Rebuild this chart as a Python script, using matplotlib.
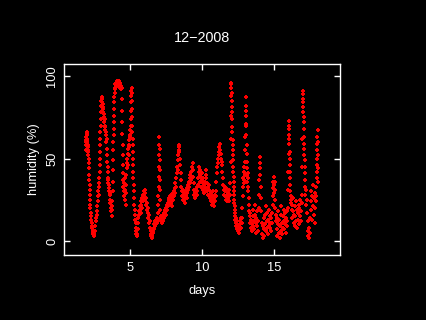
import matplotlib
matplotlib.use("Agg")
import matplotlib.pyplot as plt

# ---- data: humidity readings (day of month, % relative humidity) ----
day_a = [1.94,1.95,1.96,1.97,1.98,1.99,2.00,2.01,2.02,2.03,2.05,2.06,2.08,2.09,2.11,2.12,2.14,2.16,2.17,2.18,2.19,2.20,2.21,2.22,2.23,2.24,2.25,2.27,2.29,2.31,2.33,2.35,2.37,2.40,2.42,2.45,2.48,2.50,2.53,2.56,2.59,2.62,2.65,2.68,2.70,2.72]
hum_a = [55,58,61,63,60,64,66,62,65,60,61,57,58,54,55,52,50,47,44,40,37,34,31,28,25,22,20,17,15,13,11,9,8,6,5,4,3,3,4,6,9,12,14,16,18,21]

day_b = [2.75,2.78,2.80,2.82,2.84,2.86,2.88,2.89,2.90,2.91,2.92,2.93,2.94,2.95,2.96,2.97,2.98,3.00,3.02,3.04,3.06,3.08,3.10,3.12,3.14,3.16,3.18,3.20,3.22,3.24,3.26,3.28,3.30,3.32,3.34,3.36,3.38]
hum_b = [24,27,30,28,33,35,38,42,46,50,54,58,62,66,70,74,78,82,85,87,84,86,80,83,78,81,75,77,72,74,70,67,69,64,66,60,62]

day_c = [3.40,3.42,3.43,3.44,3.45,3.46,3.48,3.50,3.52,3.54,3.56,3.58,3.60,3.62,3.64,3.66,3.68,3.70,3.72,3.74,3.76,3.78]
hum_c = [56,52,48,45,42,38,35,37,32,30,34,28,25,29,23,20,24,18,21,15,19,24]

day_d = [3.80,3.81,3.82,3.83,3.84,3.85,3.86,3.87,3.88,3.89,3.90,3.91,3.92,3.93,3.94,3.96,3.98,4.00,4.03,4.06,4.09,4.12,4.15,4.18,4.21,4.24,4.27,4.30,4.33,4.36,4.39,4.42]
hum_d = [30,36,43,49,55,60,64,68,72,76,80,84,87,90,92,93,95,94,96,95,97,96,94,96,95,97,95,93,96,94,92,93]

day_e = [4.45,4.46,4.47,4.48,4.49,4.50,4.51,4.52,4.53,4.55,4.57,4.59,4.61,4.63,4.65,4.67,4.69,4.71,4.73,4.75]
hum_e = [86,79,72,65,58,52,46,41,37,33,30,35,27,31,25,38,29,22,34,40]

day_f = [4.78,4.80,4.82,4.84,4.86,4.88,4.90,4.92,4.94,4.96,4.98,5.00,5.02,5.04,5.06,5.07,5.08,5.09,5.10,5.11,5.12,5.13,5.14,5.15,5.16,5.17,5.18,5.19,5.20,5.21,5.22,5.23,5.24,5.25,5.27,5.29,5.31,5.33,5.35,5.37,5.39,5.41,5.43,5.45,5.47,5.49,5.51]
hum_f = [44,47,50,46,53,56,52,58,61,57,64,67,63,70,74,79,84,88,91,93,90,85,80,75,70,66,62,58,54,50,46,42,38,34,30,26,22,19,16,13,11,8,6,4,3,3,4]

day_g = [5.53,5.56,5.59,5.62,5.65,5.68,5.71,5.74,5.77,5.80,5.83,5.86,5.89,5.92,5.95,5.98,6.01,6.04,6.07,6.10,6.13,6.16,6.19,6.22,6.25,6.28,6.31,6.34,6.37,6.40,6.43,6.46,6.49,6.52,6.55,6.58]
hum_g = [7,11,14,18,16,21,19,24,17,22,26,20,28,24,30,27,31,25,29,22,26,19,23,17,20,14,16,11,12,8,6,4,3,2,3,5]

day_h = [6.61,6.64,6.67,6.70,6.73,6.76,6.79,6.82,6.85,6.88,6.91,6.94,6.96,6.97,6.98,6.99,7.00,7.01,7.02,7.03,7.04,7.05,7.06,7.07,7.08,7.09,7.10,7.11,7.12,7.14,7.17,7.20,7.23,7.26,7.29,7.32,7.35,7.38,7.41,7.44,7.47,7.50,7.53,7.56,7.59,7.62,7.65,7.68,7.71,7.74,7.77]
hum_h = [6,8,7,10,9,12,10,13,11,14,12,13,17,22,27,33,39,45,52,58,63,56,49,43,37,31,25,19,15,12,14,11,13,15,12,16,14,17,15,19,16,20,18,22,19,23,21,25,22,26,24]

day_i = [7.80,7.83,7.86,7.89,7.92,7.95,7.98,8.01,8.04,8.07,8.10,8.13,8.16,8.19,8.22,8.25,8.28,8.31,8.33,8.35,8.37,8.39,8.41,8.43,8.45]
hum_i = [27,23,28,21,26,24,29,25,30,27,32,29,35,33,38,41,45,43,49,52,55,58,54,57,50]

day_j = [8.48,8.51,8.54,8.57,8.60,8.63,8.66,8.69,8.72,8.75,8.78,8.81,8.84,8.87,8.90,8.93,8.96,8.99,9.02,9.05,9.08,9.11,9.14,9.17,9.20,9.23,9.26,9.29,9.32,9.35,9.38,9.40,9.42,9.44,9.46,9.48,9.50,9.53,9.56,9.59,9.62,9.65,9.68]
hum_j = [46,41,37,33,30,27,31,25,28,24,29,26,23,27,30,26,32,29,34,31,36,33,38,35,40,37,42,39,45,47,43,39,35,31,28,30,26,29,27,31,28,33,30]

day_k = [9.71,9.74,9.77,9.80,9.83,9.86,9.89,9.92,9.95,9.98,10.01,10.04,10.07,10.10,10.13,10.16,10.19,10.22,10.25,10.28,10.31,10.34,10.37,10.40,10.43,10.46,10.49,10.52,10.55,10.58,10.61,10.64,10.67,10.70,10.73,10.76,10.79,10.82,10.85,10.88,10.91,10.94]
hum_k = [34,38,42,45,40,36,43,39,33,37,41,35,31,38,34,29,36,32,40,43,38,35,30,33,28,31,27,34,30,26,29,24,27,22,25,30,23,26,21,28,24,27]

day_l = [10.97,11.00,11.03,11.06,11.09,11.12,11.15,11.18,11.21,11.24,11.27,11.30,11.33,11.36,11.39,11.42,11.45,11.48,11.51,11.54,11.57,11.60,11.63,11.66,11.69,11.72,11.75,11.78,11.81,11.84,11.87,11.90,11.93]
hum_l = [30,36,41,45,50,47,54,57,52,59,55,50,53,46,48,42,38,34,31,28,33,27,30,25,32,28,24,29,26,31,27,24,28]

day_m = [11.96,11.98,11.99,12.00,12.01,12.02,12.03,12.04,12.05,12.06,12.07,12.08,12.09,12.10,12.11,12.12,12.13,12.14,12.15,12.16,12.17,12.18,12.19,12.20,12.21,12.22,12.23,12.24,12.25,12.26,12.27,12.28,12.30,12.32,12.34,12.36,12.38,12.40,12.43,12.46,12.49,12.52,12.55,12.58,12.61,12.64,12.67,12.70,12.73,12.76]
hum_m = [35,48,62,76,88,96,93,95,90,85,81,78,74,69,66,61,58,55,52,49,45,42,39,36,33,30,28,25,23,21,19,17,15,13,11,14,9,12,7,10,6,8,5,9,12,7,10,14,8,11]

day_n = [12.79,12.81,12.83,12.85,12.87,12.89,12.91,12.93,12.95,12.97,12.99,13.00,13.01,13.02,13.03,13.04,13.05,13.06,13.07,13.08,13.09,13.10,13.11,13.12,13.13,13.14,13.16,13.18,13.20,13.22,13.24,13.26,13.28]
hum_n = [14,20,27,33,38,35,42,37,45,40,48,55,63,71,79,87,82,76,70,64,58,53,48,44,40,36,41,33,38,30,26,22,18]

day_o = [13.30,13.33,13.36,13.39,13.42,13.45,13.48,13.51,13.54,13.57,13.60,13.63,13.66,13.69,13.72,13.75,13.78,13.81,13.84,13.87,13.90,13.93,13.96,13.98,14.00,14.02,14.04,14.06,14.08,14.10,14.12,14.15,14.18,14.21,14.24,14.27,14.30,14.33,14.36,14.39,14.42,14.45,14.48,14.51,14.54,14.57,14.60,14.63,14.66,14.69,14.72]
hum_o = [15,11,17,8,13,6,10,15,9,19,12,7,16,22,11,5,14,9,18,6,12,20,28,37,44,51,47,40,33,26,18,11,4,9,2,7,14,3,10,16,6,21,12,8,17,4,13,19,9,15,11]

day_p = [14.75,14.78,14.81,14.84,14.87,14.90,14.92,14.94,14.96,14.98,15.00,15.02,15.04,15.06,15.08,15.10,15.12,15.15,15.18,15.21,15.24,15.27,15.30,15.33,15.36,15.39,15.42,15.45,15.48,15.51,15.54,15.57,15.60,15.63,15.66,15.69,15.72,15.75,15.78,15.81,15.84,15.87,15.90,15.93]
hum_p = [8,14,6,11,17,22,27,32,36,39,34,29,36,31,25,20,16,12,7,14,3,10,18,5,13,2,9,16,6,21,11,4,15,8,19,12,7,17,10,5,14,9,18,12]

day_q = [15.96,15.98,16.00,16.01,16.02,16.03,16.04,16.05,16.06,16.07,16.08,16.09,16.10,16.11,16.12,16.13,16.14,16.15,16.17,16.19,16.22,16.25,16.28,16.31,16.34,16.37,16.40,16.43,16.46,16.49,16.52,16.55,16.58,16.61,16.64,16.67,16.70,16.73,16.76,16.79,16.82]
hum_q = [20,31,42,53,62,70,73,68,64,59,54,50,46,42,38,34,30,27,23,25,19,22,14,18,26,11,16,21,9,15,24,12,19,8,17,13,22,10,20,15,25]

day_r = [16.85,16.88,16.91,16.94,16.96,16.97,16.98,16.99,17.00,17.01,17.02,17.03,17.04,17.05,17.06,17.07,17.08,17.09,17.10,17.11,17.12,17.13,17.14,17.15,17.16]
hum_r = [18,12,23,28,45,62,78,91,89,86,84,81,78,75,72,68,63,59,56,52,49,45,41,37,33]

day_s = [17.18,17.21,17.24,17.27,17.30,17.33,17.36,17.39,17.42,17.45,17.48,17.51,17.54,17.57,17.60,17.63,17.66,17.69,17.72,17.75,17.78,17.81,17.84,17.87,17.89,17.91,17.93,17.95,17.96,17.97,17.98,17.99,18.00,18.01,18.02,18.03,18.04,18.05,18.06]
hum_s = [28,22,31,17,25,12,6,3,8,2,5,14,24,19,30,13,27,21,34,16,26,11,20,29,24,33,27,38,42,46,50,55,59,63,67,60,52,44,36]

x_ticks = [5, 10, 15]
y_ticks = [0, 50, 100]
title_text = "12\u22122008"
x_label = "days"
y_label = "humidity (%)"

day_parts = [day_a, day_b, day_c, day_d, day_e, day_f, day_g, day_h, day_i, day_j,
             day_k, day_l, day_m, day_n, day_o, day_p, day_q, day_r, day_s]
hum_parts = [hum_a, hum_b, hum_c, hum_d, hum_e, hum_f, hum_g, hum_h, hum_i, hum_j,
             hum_k, hum_l, hum_m, hum_n, hum_o, hum_p, hum_q, hum_r, hum_s]
days, humidity = [], []
for dp, hp in zip(day_parts, hum_parts, strict=True):
    assert len(dp) == len(hp), (len(dp), len(hp))
    days.extend(dp)
    humidity.extend(hp)

# ---- figure ----
plt.rcParams['font.family'] = ['Liberation Sans', 'DejaVu Sans']
fig = plt.figure(figsize=(4.26, 3.2), dpi=100, facecolor='black')
ax = fig.add_axes([64/426, 65/320, 276/426, 191/320], facecolor='black')

ax.plot(days, humidity, linestyle='none', marker='+', color='#ff0000',
        markersize=3.2, markeredgewidth=1.4, antialiased=False)

ax.set_xlim(0.42, 19.58)
ax.set_ylim(-8.5, 107.3)
ax.set_xticks(x_ticks)
ax.set_yticks(y_ticks)
ax.set_xticklabels([str(t) for t in x_ticks])
ax.set_yticklabels([str(t) for t in y_ticks], rotation=90, va='center')

for sp in ax.spines.values():
    sp.set_color('white')
    sp.set_linewidth(1.0)

ax.tick_params(axis='both', which='both', direction='in', length=4, width=1.0,
               color='white', labelcolor='white', labelsize=9.3,
               top=True, right=True)
ax.tick_params(axis='x', pad=5)
ax.tick_params(axis='y', pad=4)

ax.set_title(title_text, color='white', fontsize=10.4, pad=16)
ax.set_xlabel(x_label, color='white', fontsize=9.3, labelpad=8)
ax.set_ylabel(y_label, color='white', fontsize=9.3, labelpad=5)

fig.savefig('out.png', dpi=100, facecolor='black')
